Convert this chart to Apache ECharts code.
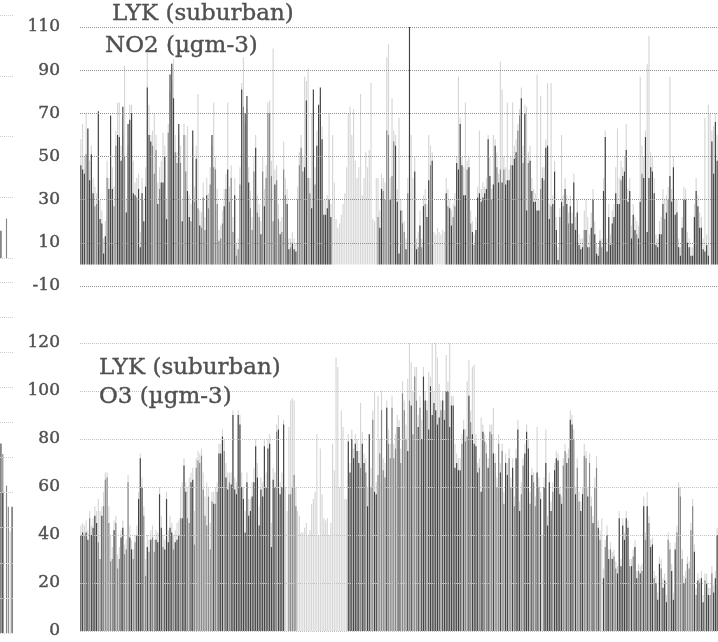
<!DOCTYPE html>
<html>
<head>
<meta charset="utf-8">
<script src="https://cdn.jsdelivr.net/npm/echarts@6/dist/echarts.min.js"></script>
<style>
  html, body { margin: 0; padding: 0; background: #ffffff; }
  #chart { width: 718px; height: 642px; }
</style>
</head>
<body>
<div id="chart"></div>
<script>
// Daily concentrations at LYK (suburban), one bar per day.
// Three overlapping daily series per pollutant: light (back), mid, dark (front).
const _ = null;

const days = Array.from({ length: 365 }, (v, i) => i + 1);

const no2Ticks = [-10, 10, 30, 50, 70, 90, 110];
const o3Ticks = [0, 20, 40, 60, 80, 100, 120];

const no2Light = [
  58,65,50,70,63,48,55,40,36,33, 70,30,25,12,20,48,40,60,45,36,
  62,75,75,55,60,92,30,55,74,74, 48,38,40,42,15,40,30,45,98,74,
  60,62,70,60,38,45,48,61,55,30, 65,80,85,95,60,52,60,55,30,65,
  60,64,32,28,55,36,55,79,25,24, 38,22,40,33,45,55,75,50,35,16,
  18,25,35,42,75,36,46,22,40,10, 12,45,84,96,65,72,45,34,22,50,
  60,32,28,20,50,35,46,75,76,48, 100,44,46,28,20,22,57,40,35,12,
  12,15,12,10,36,52,60,50,87,85, 91,40,70,75,45,62,70,78,64,30,
  30,32,70,28,60,38,21,17,19,23, 28,33,45,70,73,60,72,48,40,45,
  79,32,40,52,45,53,84,21,20,40, 40,25,42,40,38,96,102,40,77,62,
  60,35,68,30,25,20,12,40,60,60, 40,50,12,15,25,12,32,35,28,60,
  55,52,15,14,17,15,14,16,15,40, 35,30,25,28,33,50,87,68,50,45,
  75,48,50,25,20,14,22,36,62,35, 38,36,40,60,50,35,60,58,52,42,
  94,81,50,45,75,44,50,75,55,58, 65,72,82,55,74,73,52,55,40,35,
  33,88,30,78,45,45,58,84,28,84, 32,48,22,8,26,60,32,40,32,24,
  32,24,42,22,30,14,12,12,25,30, 22,14,24,35,20,10,8,16,12,40,
  62,12,28,14,25,28,45,63,40,48, 45,50,65,35,40,18,28,22,20,18,
  87,55,50,62,93,106,52,50,40,14, 12,20,22,35,30,32,36,87,35,50,
  30,30,12,8,22,36,35,15,12,8, 8,28,40,32,24,22,12,68,14,74,
  70,62,64,70,60
];

const no2Mid = [
  _,_,_,51,_,_,_,_,27,28, _,_,_,_,_,40,_,_,_,27,
  55,_,_,_,_,50,_,_,_,_, _,_,31,_,_,_,_,_,_,_,
  _,55,42,53,_,35,_,_,_,_, 61,_,_,_,52,47,_,47,_,60,
  43,_,_,20,_,29,_,26,_,17, 31,16,_,26,37,_,45,44,28,11,
  12,19,_,35,_,29,40,15,_,4, 7,37,_,73,_,_,_,26,16,43,
  _,24,22,_,43,_,40,70,70,41, 20,_,39,21,_,15,44,32,_,_,
  8,_,_,_,30,46,54,43,_,_, 40,33,_,_,37,_,_,_,_,_,
  _,_,_,_,_,_,_,_,_,_, _,_,_,_,_,_,_,_,_,_,
  _,_,_,_,_,_,_,_,_,_, 22,_,_,34,30,62,60,_,41,57,
  _,_,_,_,19,15,_,33,_,_, _,_,_,8,_,8,_,28,_,_,
  46,_,_,_,_,_,_,_,_,_, 27,_,_,22,27,_,_,_,_,_,
  _,44,_,19,_,9,_,_,_,_, _,_,_,_,_,30,_,_,45,_,
  44,_,44,_,_,_,46,_,_,_, 62,69,_,47,_,_,47,_,_,_,
  _,_,_,35,_,39,_,_,_,27, _,_,_,_,22,_,27,_,_,19,
  _,_,_,_,_,_,_,_,16,_, _,8,_,_,_,_,_,_,8,_,
  _,_,_,_,_,_,_,_,_,39, _,_,_,_,_,_,_,_,14,_,
  _,42,_,_,_,_,_,_,_,_, _,_,_,_,21,_,30,_,_,_,
  _,_,_,_,_,_,_,_,_,_, _,_,_,_,_,_,_,_,_,_,
  _,_,_,_,_
];

const no2Dark = [
  46,44,42,_,63,39,51,33,_,_, 71,21,19,5,13,_,35,69,35,_,
  _,60,59,48,73,_,24,65,67,70, 33,32,_,35,8,33,20,36,82,60,
  57,_,_,_,28,_,38,38,50,21, _,88,93,77,_,_,65,_,20,_,
  _,34,22,_,62,_,49,_,18,_, _,_,32,_,_,60,_,_,_,_,
  _,_,27,_,44,_,_,_,32,_, _,_,81,_,70,78,38,_,_,_,
  54,_,_,14,_,27,_,_,_,_, _,37,_,_,14,_,_,_,28,7,
  _,10,7,6,_,_,_,_,45,76, _,_,26,81,_,55,74,82,58,23,
  23,26,30,22,_,_,_,_,_,_, _,_,_,_,_,_,_,_,_,_,
  _,_,_,_,_,_,_,_,_,_, _,17,35,_,_,_,_,30,_,_,
  55,29,5,25,_,_,7,_,110,_, _,43,7,_,18,_,27,_,22,39,
  _,48,_,_,_,_,_,_,_,33, _,26,18,_,_,47,44,65,46,32,
  32,_,45,_,15,_,16,31,33,29, 31,33,35,58,41,_,37,55,_,38,
  _,38,_,37,39,39,_,46,49,52, _,_,77,_,70,25,_,48,34,29,
  29,25,25,_,40,_,54,55,21,_, 28,43,16,2,_,29,_,35,28,_,
  27,19,38,16,24,9,7,8,_,16, 8,_,17,30,14,5,4,11,_,34,
  59,6,22,9,19,22,33,28,28,_, 41,43,53,29,34,12,23,16,_,12,
  29,_,40,59,15,40,45,43,33,9, 8,14,14,28,_,24,_,41,29,45,
  23,24,8,4,17,30,30,10,8,4, 4,22,34,27,17,17,7,6,9,4,
  _,57,42,66,48
];

const o3Light = [
  44,45,44,46,42,50,44,47,52,50, 55,50,52,58,66,66,52,40,35,46,
  48,32,35,42,46,36,38,65,44,38, 34,40,44,58,74,64,52,30,40,38,
  42,44,38,42,41,60,48,40,38,58, 42,48,45,40,42,45,46,60,62,72,
  62,60,64,66,68,50,72,75,74,76, 66,56,62,60,45,58,58,60,62,78,
  78,84,80,70,66,66,66,92,64,62, 92,90,66,60,50,66,55,55,62,68,
  80,70,52,64,62,80,66,80,82,45, 68,66,86,90,62,66,88,60,50,85,
  96,97,96,60,50,48,41,41,43,45, 40,42,53,55,58,82,40,76,57,47,
  46,47,40,45,78,67,114,110,60,92, 85,55,55,82,70,84,76,82,80,75,
  95,83,74,72,60,82,68,92,100,62, 98,80,100,72,70,96,84,78,98,78,
  82,90,88,76,104,96,86,105,120,112, 100,110,110,90,98,88,110,100,96,108,
  106,120,100,120,114,103,96,100,92,115, 104,120,98,98,78,74,72,72,82,88,
  84,104,113,92,110,111,82,70,72,89, 86,82,78,72,86,86,93,74,64,82,
  70,78,58,74,70,76,64,72,56,76, 88,54,62,72,78,86,80,58,68,66,
  56,85,64,58,40,64,84,48,66,54, 62,70,75,74,60,56,72,78,74,76,
  92,90,84,60,72,58,54,60,78,75, 60,74,56,48,64,73,46,42,47,26,
  38,44,34,37,33,34,29,27,50,30, 47,41,50,46,30,30,34,38,25,28,
  27,28,56,41,58,48,38,39,25,23, 16,31,30,22,24,15,41,37,28,16,
  37,44,62,60,34,23,25,31,29,45, 55,36,18,24,22,25,15,24,24,18,
  18,27,19,25,43
];

const o3Mid = [
  _,_,40,_,_,47,_,_,_,_, 37,30,_,52,63,64,45,29,30,_,
  45,26,30,_,_,32,34,62,_,_, 30,37,_,_,_,_,48,23,_,33,
  _,39,33,_,_,_,_,35,_,_, _,_,_,34,_,_,_,47,_,_,
  _,47,45,_,_,36,68,71,70,73, 59,48,44,56,34,54,_,53,58,_,
  _,_,75,_,_,62,_,_,_,_, _,_,_,_,_,_,_,_,_,_,
  _,_,_,_,_,_,_,_,_,_, _,_,83,_,_,_,_,_,_,57,
  57,60,65,52,_,_,_,_,_,_, _,_,_,_,_,_,_,_,_,_,
  _,_,_,_,_,_,_,_,_,_, _,_,_,_,_,_,_,_,_,_,
  68,_,_,66,_,_,60,88,_,_, 65,74,92,67,64,_,78,72,93,72,
  76,85,_,70,99,92,80,_,96,_, 82,106,96,_,93,_,_,_,92,_,
  _,_,_,_,_,_,92,_,_,_, _,_,_,_,_,_,_,_,78,_,
  79,81,_,87,_,_,_,_,68,_, _,79,74,_,83,82,_,70,60,78,
  _,75,53,_,_,72,60,_,52,_, _,_,57,69,_,_,_,53,_,62,
  52,_,60,_,_,_,_,_,_,_, 58,_,_,_,_,_,69,75,_,72,
  _,_,80,_,68,54,_,_,73,72, _,70,52,_,60,68,_,38,_,_,
  35,_,_,34,_,31,26,_,_,_, _,_,_,_,27,_,31,_,_,25,
  _,25,_,38,_,45,_,_,22,_, _,_,26,_,_,_,38,34,_,_,
  _,41,60,56,30,_,22,28,26,42, 52,_,15,_,20,_,_,21,_,_,
  15,24,_,_,_
];

const o3Dark = [
  40,41,_,41,38,_,40,43,48,45, _,_,48,_,_,_,_,_,_,42,
  _,_,_,39,43,_,_,_,39,34, _,_,40,55,72,60,_,_,35,_,
  38,_,_,38,37,57,43,_,34,55, 37,43,41,_,37,38,40,_,47,69,
  58,_,_,62,63,_,_,_,_,_, _,_,_,_,_,_,53,_,_,74,
  74,81,_,64,59,_,61,90,59,57, 90,86,60,55,41,62,48,50,56,62,
  77,64,44,59,56,77,60,76,78,35, 63,60,_,84,57,60,86,_,_,_,
  _,_,_,_,_,_,_,_,_,_, _,_,_,_,_,_,_,_,_,_,
  _,_,_,_,_,_,_,_,_,_, _,_,_,79,66,80,72,78,75,70,
  _,78,70,_,52,82,_,_,58,57, _,_,_,_,_,93,_,_,_,_,
  _,_,85,_,_,_,_,75,_,94, _,_,_,85,_,80,106,96,_,84,
  102,90,95,92,86,89,_,96,88,100, 100,85,94,94,68,70,67,67,_,84,
  _,_,98,_,82,78,77,66,_,58, 83,_,_,68,_,_,74,_,_,_,
  66,_,_,70,65,_,_,68,_,72, 84,50,_,_,74,83,76,_,65,_,
  _,66,_,55,_,60,70,44,62,50, _,67,72,71,57,53,_,_,70,_,
  88,86,_,57,_,_,50,57,_,_, 56,_,_,45,_,_,43,_,_,22,
  _,40,30,_,30,_,_,24,47,27, 44,38,47,43,_,27,_,35,22,_,
  24,_,52,_,52,_,35,36,_,20, 13,28,_,18,21,12,_,_,25,13,
  34,_,_,_,_,20,_,_,_,_, _,33,_,21,_,22,12,_,20,15,
  _,_,16,22,40
];

// Edge of the neighbouring station's panels on the far left
const edgeDays = [1, 2, 3, 4, 5, 6, 7];
const edgeTopTicks = [0, 20, 40, 60, 80];
const edgeLowTicks = [0, 10, 20, 30, 40, 50, 60, 70, 80, 90, 100];
const edgeTopMid = [_, _, _, 13, _, _, _];
const edgeTopDark = [9, _, _, _, _, _, _];
const edgeLowLight = [_, _, _, _, _, 29, _];
const edgeLowMid = [_, 51, _, 42, 36, _, _];
const edgeLowDark = [54, 40, _, _, _, _, 36];

const FONT = 'DejaVu Serif';
const INK = '#505050';
const DARK = '#424242';
const MID = '#888888';
const LIGHT = '#d6d6d6';

function barSeries(data, color, axis) {
  return {
    type: 'bar',
    data: data,
    xAxisIndex: axis,
    yAxisIndex: axis,
    barWidth: 1.15,
    barGap: '-100%',
    itemStyle: { color: color },
    silent: true,
    animation: false
  };
}

function categoryAxis(grid, cats) {
  return { type: 'category', gridIndex: grid, data: cats, show: false };
}

function valueAxis(grid, ticks, lineColor, labels) {
  return {
    type: 'value',
    gridIndex: grid,
    min: ticks[0],
    max: ticks[ticks.length - 1],
    interval: ticks[1] - ticks[0],
    z: 5,
    axisLine: { show: false },
    axisTick: { show: false },
    axisLabel: {
      show: labels,
      margin: 20,
      fontFamily: FONT,
      fontSize: 17,
      color: INK,
      textBorderColor: INK,
      textBorderWidth: 0.4
    },
    splitLine: { show: true, lineStyle: { type: 'dotted', color: lineColor, width: 1 } }
  };
}

const titleStyle = {
  fontFamily: FONT,
  fontSize: 23,
  fontWeight: 'normal',
  color: INK,
  textBorderColor: INK,
  textBorderWidth: 0.4
};

const chart = echarts.init(document.getElementById('chart'), null, { renderer: 'canvas' });
chart.setOption({
  animation: false,
  backgroundColor: '#ffffff',
  title: [
    { text: 'LYK (suburban)', left: 112, top: 3, padding: 0, textStyle: titleStyle },
    { text: 'NO2 (µgm-3)', left: 105, top: 35, padding: 0, textStyle: titleStyle },
    { text: 'LYK (suburban)', left: 99, top: 357, padding: 0, textStyle: titleStyle },
    { text: 'O3 (µgm-3)', left: 99, top: 386, padding: 0, textStyle: titleStyle }
  ],
  grid: [
    { left: 80, right: 0, top: 27, height: 259 },
    { left: 80, right: 0, top: 343, height: 288 },
    { left: 0, width: 13, top: 15, height: 243 },
    { left: 0, width: 13, top: 282, height: 351 }
  ],
  xAxis: [
    categoryAxis(0, days),
    categoryAxis(1, days),
    categoryAxis(2, edgeDays),
    categoryAxis(3, edgeDays)
  ],
  yAxis: [
    valueAxis(0, no2Ticks, '#8f8f8f', true),
    valueAxis(1, o3Ticks, '#c2c2c2', true),
    valueAxis(2, edgeTopTicks, '#cfcfcf', false),
    valueAxis(3, edgeLowTicks, '#cfcfcf', false)
  ],
  series: [
    barSeries(no2Light, LIGHT, 0),
    barSeries(no2Mid, MID, 0),
    barSeries(no2Dark, DARK, 0),
    barSeries(o3Light, LIGHT, 1),
    barSeries(o3Mid, MID, 1),
    barSeries(o3Dark, DARK, 1),
    barSeries(edgeTopMid, MID, 2),
    barSeries(edgeTopDark, DARK, 2),
    barSeries(edgeLowLight, LIGHT, 3),
    barSeries(edgeLowMid, MID, 3),
    barSeries(edgeLowDark, DARK, 3)
  ]
});
</script>
</body>
</html>
